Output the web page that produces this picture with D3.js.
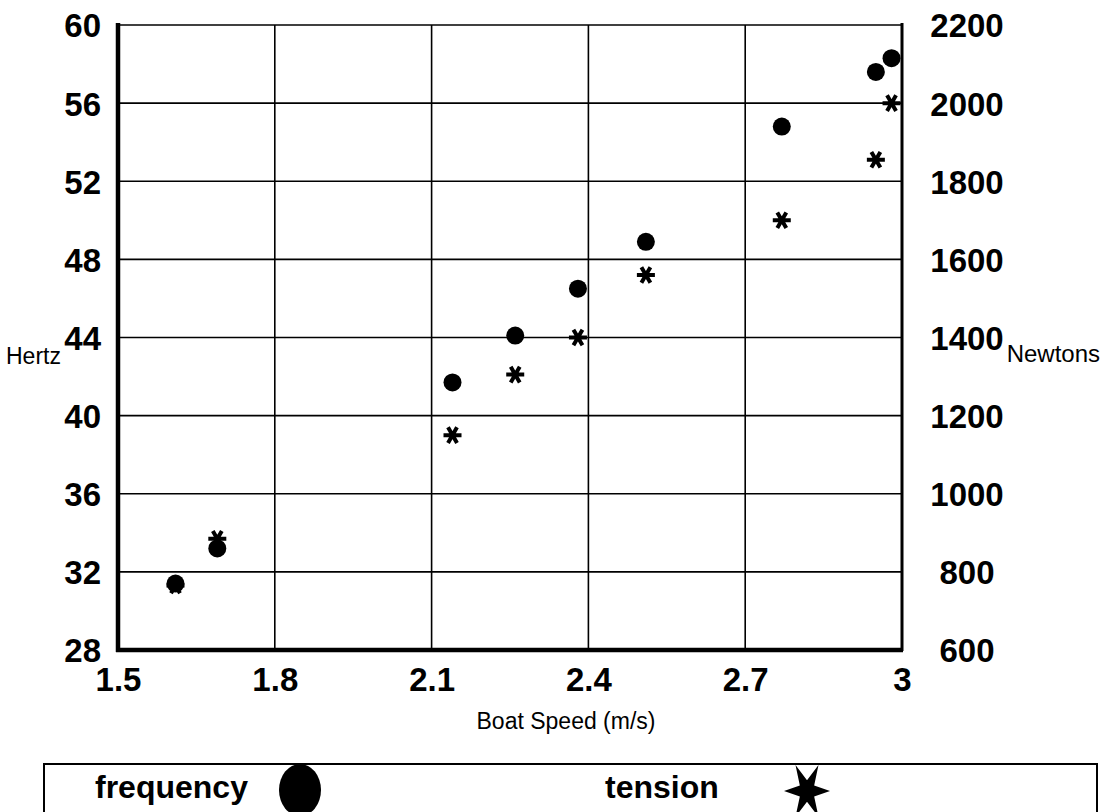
<!DOCTYPE html>
<html>
<head>
<meta charset="utf-8">
<script src="https://cdn.jsdelivr.net/npm/d3@7"></script>
<style>
  html, body { margin: 0; padding: 0; background: #fff; }
  svg { display: block; font-family: "Liberation Sans", Arial, sans-serif; }
</style>
</head>
<body>
<svg id="chart" width="1104" height="812"></svg>
<script>
// Boat speed (m/s) for each run
const boatSpeed = [1.61, 1.69, 2.14, 2.26, 2.38, 2.51, 2.77, 2.95, 2.98];
// Measured frequency (Hz), left axis
const frequency = [31.4, 33.2, 41.7, 44.1, 46.5, 48.9, 54.8, 57.6, 58.3];
// Measured tension (N), right axis
const tension = [765, 885, 1150, 1305, 1400, 1560, 1700, 1855, 2000];

const xTicks = [1.5, 1.8, 2.1, 2.4, 2.7, 3];
const hzTicks = [28, 32, 36, 40, 44, 48, 52, 56, 60];
const nTicks = [600, 800, 1000, 1200, 1400, 1600, 1800, 2000, 2200];

const legendLabels = ["frequency", "tension"];

const svg = d3.select("#chart");

const plot = { left: 118, right: 902, top: 25, bottom: 650 };

const x = d3.scaleLinear().domain([1.5, 3]).range([plot.left, plot.right]);
const yHz = d3.scaleLinear().domain([28, 60]).range([plot.bottom, plot.top]);
const yN = d3.scaleLinear().domain([600, 2200]).range([plot.bottom, plot.top]);

const tickFont = 33;

// Six-pointed star outline centred on the origin
function starPath(R, ratio, sy) {
  const pts = [];
  for (let i = 0; i < 12; i++) {
    const a = i * Math.PI / 6;
    const r = i % 2 === 0 ? R : R * ratio;
    pts.push([r * Math.cos(a), -r * Math.sin(a) * sy]);
  }
  return d3.line()(pts) + "Z";
}

// Asterisk made of three strokes through the origin
function asteriskPath(R) {
  const p = d3.path();
  for (let i = 0; i < 3; i++) {
    const a = i * Math.PI / 3;
    p.moveTo(R * Math.cos(a), -R * Math.sin(a));
    p.lineTo(-R * Math.cos(a), R * Math.sin(a));
  }
  return p.toString();
}

// Gridlines
svg.append("g")
  .selectAll("line")
  .data(xTicks.slice(1, -1))
  .join("line")
  .attr("x1", d => x(d)).attr("x2", d => x(d))
  .attr("y1", plot.top).attr("y2", plot.bottom)
  .attr("stroke", "#000").attr("stroke-width", 1.6);

svg.append("g")
  .selectAll("line")
  .data(hzTicks.slice(1, -1))
  .join("line")
  .attr("x1", plot.left).attr("x2", plot.right)
  .attr("y1", d => yHz(d)).attr("y2", d => yHz(d))
  .attr("stroke", "#000").attr("stroke-width", 1.6);

// Frame
svg.append("line")
  .attr("x1", plot.left).attr("x2", plot.right)
  .attr("y1", plot.top).attr("y2", plot.top)
  .attr("stroke", "#000").attr("stroke-width", 1.5);
svg.append("line")
  .attr("x1", plot.right).attr("x2", plot.right)
  .attr("y1", plot.top - 2).attr("y2", plot.bottom + 1)
  .attr("stroke", "#000").attr("stroke-width", 3);

// Left and bottom axes via d3 axis generators
const axisLeft = d3.axisLeft(yHz).tickValues(hzTicks).tickSize(0).tickPadding(17);
const gL = svg.append("g").attr("transform", `translate(${plot.left},0)`).call(axisLeft);
gL.select(".domain").attr("stroke", "#000").attr("stroke-width", 4.5).attr("d", `M0,${plot.top - 2}V${plot.bottom + 2}`);
gL.selectAll("text")
  .attr("font-size", tickFont).attr("font-weight", "bold").attr("fill", "#000")
  .attr("font-family", "Liberation Sans, Arial, sans-serif")
  .attr("dy", "0.36em");

const axisBottom = d3.axisBottom(x).tickValues(xTicks).tickSize(0).tickPadding(18)
  .tickFormat(d => String(d));
const gB = svg.append("g").attr("transform", `translate(0,${plot.bottom})`).call(axisBottom);
gB.select(".domain").attr("stroke", "#000").attr("stroke-width", 4.5).attr("d", `M${plot.left - 2},0H${plot.right + 1}`);
gB.selectAll("text")
  .attr("font-size", tickFont).attr("font-weight", "bold").attr("fill", "#000")
  .attr("font-family", "Liberation Sans, Arial, sans-serif");

// Right axis labels (centred column)
const axisRight = d3.axisRight(yN).tickValues(nTicks).tickSize(0).tickPadding(65)
  .tickFormat(d => String(d));
const gR = svg.append("g").attr("transform", `translate(${plot.right},0)`).call(axisRight);
gR.select(".domain").remove();
gR.selectAll("text")
  .attr("font-size", tickFont).attr("font-weight", "bold").attr("fill", "#000")
  .attr("font-family", "Liberation Sans, Arial, sans-serif")
  .attr("text-anchor", "middle")
  .attr("dy", "0.36em");

// Axis titles
svg.append("text").attr("x", 6).attr("y", 364).attr("font-size", 23).text("Hertz");
svg.append("text").attr("x", 1100).attr("y", 362).attr("text-anchor", "end").attr("font-size", 24).text("Newtons");
svg.append("text").attr("x", 566).attr("y", 729).attr("text-anchor", "middle").attr("font-size", 23).text("Boat Speed (m/s)");

// Frequency markers
svg.append("g")
  .selectAll("circle")
  .data(boatSpeed.map((s, i) => [s, frequency[i]]))
  .join("circle")
  .attr("cx", d => x(d[0])).attr("cy", d => yHz(d[1]))
  .attr("r", 9).attr("fill", "#000");

// Tension markers
const smallAsterisk = asteriskPath(9);
svg.append("g")
  .selectAll("path")
  .data(boatSpeed.map((s, i) => [s, tension[i]]))
  .join("path")
  .attr("d", smallAsterisk)
  .attr("transform", d => `translate(${x(d[0])},${yN(d[1])})`)
  .attr("fill", "none").attr("stroke", "#000").attr("stroke-width", 4);

// Legend
const legend = svg.append("g");
legend.append("rect")
  .attr("x", 44).attr("y", 764).attr("width", 1053).attr("height", 80)
  .attr("fill", "none").attr("stroke", "#000").attr("stroke-width", 2);
legend.append("text").attr("x", 95).attr("y", 798)
  .attr("font-size", 32).attr("font-weight", "bold").text(legendLabels[0]);
legend.append("ellipse").attr("cx", 300).attr("cy", 790).attr("rx", 21).attr("ry", 26).attr("fill", "#000");
legend.append("text").attr("x", 605).attr("y", 798)
  .attr("font-size", 32).attr("font-weight", "bold").text(legendLabels[1]);
legend.append("path").attr("d", starPath(23, 0.36, 1.3))
  .attr("transform", "translate(807,791)").attr("fill", "#000");
</script>
</body>
</html>
